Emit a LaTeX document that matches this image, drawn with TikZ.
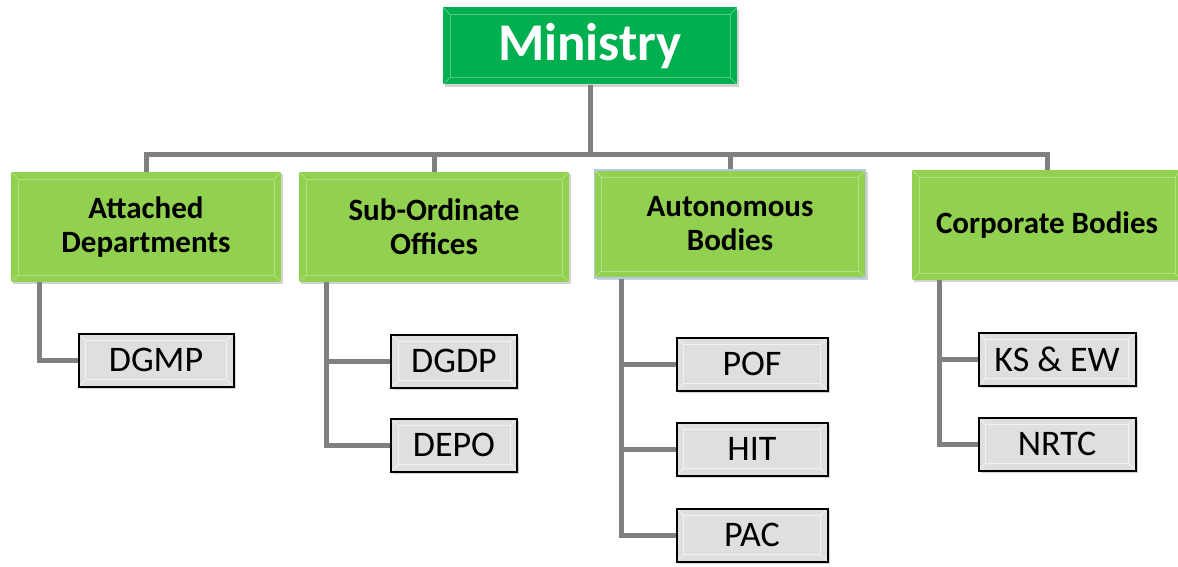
\documentclass[tikz,border=0pt]{standalone}
\usepackage{fontspec}
\setmainfont{Carlito}
\usetikzlibrary{shadows}
\definecolor{mingreen}{HTML}{00B050}
\definecolor{leafgreen}{HTML}{92D050}
\definecolor{linkgray}{HTML}{808080}
\definecolor{edgeblue}{HTML}{B4C7E7}
\tikzset{
  bevel/.style={path picture={
    \path (path picture bounding box.north west) coordinate (p1)
          (path picture bounding box.south east) coordinate (p2);
    \begin{scope}[#1,line width=0.8pt,opacity=0.6]
    \draw (p1) -- ++(7pt,-7pt) coordinate (q1);
    \draw (p2) -- ++(-7pt,7pt) coordinate (q2);
    \draw (q1) rectangle (q2);
    \draw (p1 -| p2) -- (q1 -| q2);
    \draw (p1 |- p2) -- (q1 |- q2);
    \end{scope}}},
  head/.style={fill=mingreen, text=white, inner sep=0pt,
    font=\fontsize{53}{56}\selectfont\bfseries,
    minimum width=294pt, minimum height=77pt,
    drop shadow={opacity=0.35}, bevel=white!55!mingreen},
  group/.style={fill=leafgreen, align=center, inner sep=0pt,
    font=\fontsize{31}{34}\selectfont\bfseries,
    minimum width=270pt, minimum height=110pt,
    drop shadow={opacity=0.35}, bevel=white!50!leafgreen},
  unit/.style={fill=gray!25, draw=black, line width=2pt, inner sep=0pt,
    font=\fontsize{36}{40}\selectfont,
    minimum height=53pt, drop shadow={opacity=0.35}, bevel=white},
  link/.style={draw=linkgray, line width=5pt}
}
\begin{document}
\begin{tikzpicture}[x=1pt,y=-1pt]
\useasboundingbox (0,0) rectangle (1178,567);

\node[head] (min) at (590,46) {Ministry};

\node[group] (att) at (146,227) {Attached\\Departments};
\node[group] (sub) at (434,227) {Sub-Ordinate\\Offices};
\node[group,draw=edgeblue,line width=1.5pt,minimum width=271pt,minimum height=108pt] (aut) at (730,224) {Autonomous\\Bodies};
\node[group] (cor) at (1047,225) {Corporate Bodies};

\node[unit,minimum width=155pt] (dgmp) at (156,360) {DGMP};
\node[unit,minimum width=126pt] (dgdp) at (454,361) {DGDP};
\node[unit,minimum width=126pt] (depo) at (454,445) {DEPO};
\node[unit,minimum width=151pt] (pof) at (752,364) {POF};
\node[unit,minimum width=151pt] (hit) at (752,449) {HIT};
\node[unit,minimum width=151pt] (pac) at (752,535) {PAC};
\node[unit,minimum width=157pt] (ksew) at (1057,359) {KS \& EW};
\node[unit,minimum width=157pt] (nrtc) at (1057,444) {NRTC};

\coordinate (bus) at (590,155);
\draw[link] (min) -- (bus);
\draw[link] (bus) -| (att.north);
\draw[link] (bus) -| (sub.north);
\draw[link] (bus) -| (aut.north);
\draw[link] (bus) -| (cor.north);

\draw[link] ([xshift=29pt]att.south west) |- (dgmp.west);
\draw[link] ([xshift=28pt]sub.south west) |- (dgdp.west);
\draw[link] ([xshift=28pt]sub.south west) |- (depo.west);
\draw[link] ([xshift=28pt]aut.south west) |- (pof.west);
\draw[link] ([xshift=28pt]aut.south west) |- (hit.west);
\draw[link] ([xshift=28pt]aut.south west) |- (pac.west);
\draw[link] ([xshift=28pt]cor.south west) |- (ksew.west);
\draw[link] ([xshift=28pt]cor.south west) |- (nrtc.west);
\end{tikzpicture}
\end{document}
